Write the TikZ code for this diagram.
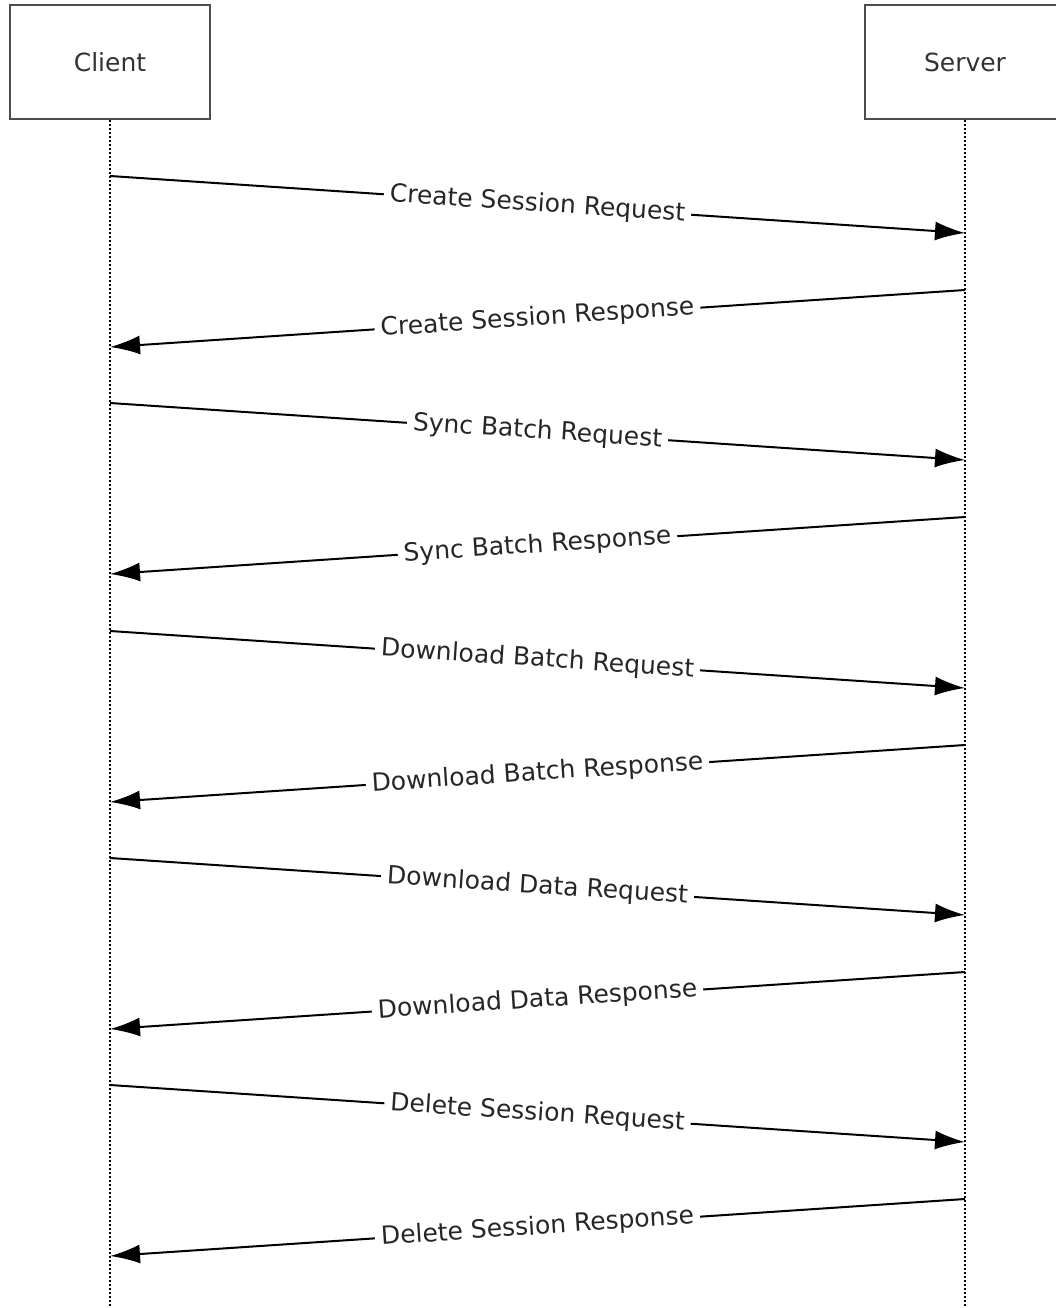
\documentclass[tikz,border=0pt]{standalone}
\usepackage{fontspec}
\setmainfont{DejaVu Sans}
\usetikzlibrary{arrows.meta, positioning}

\begin{document}
\begin{tikzpicture}[x=1pt, y=-1pt,
  every node/.style={font=\fontsize{25}{30}\selectfont},
  actor/.style={rectangle, draw=black!70, line width=2.5pt, minimum width=200pt, minimum height=114pt, text=black!80},
  lifeline/.style={line width=2pt, dash pattern=on 2pt off 2pt},
  msg/.style={-{Latex[length=30pt, width=19pt]}, line width=2pt},
  msglabel/.style={midway, sloped, fill=white, inner xsep=6pt, inner ysep=2pt, text=black!85}]
  \clip (0,0) rectangle (1056,1308);

  % Participants
  \node[actor] (client) at (110,62) {Client};
  \node[actor] (server) at (965,62) {Server};

  % Lifelines
  \coordinate (clientend) at (110,1308);
  \coordinate (serverend) at (965,1308);
  \draw[lifeline] (client.south) -- (clientend);
  \draw[lifeline] (server.south) -- (serverend);

  % Message end points on the lifelines
  \coordinate (c1) at (110,176);  \coordinate (s1) at (965,233);
  \coordinate (s2) at (965,290);  \coordinate (c2) at (110,347);
  \coordinate (c3) at (110,403);  \coordinate (s3) at (965,460);
  \coordinate (s4) at (965,517);  \coordinate (c4) at (110,574);
  \coordinate (c5) at (110,631);  \coordinate (s5) at (965,688);
  \coordinate (s6) at (965,745);  \coordinate (c6) at (110,802);
  \coordinate (c7) at (110,858);  \coordinate (s7) at (965,915);
  \coordinate (s8) at (965,972);  \coordinate (c8) at (110,1029);
  \coordinate (c9) at (110,1085); \coordinate (s9) at (965,1142);
  \coordinate (s10) at (965,1199); \coordinate (c10) at (110,1256);

  % Messages
  \draw[msg] (c1) -- node[msglabel] {Create Session Request} (s1);
  \draw[msg] (s2) -- node[msglabel] {Create Session Response} (c2);
  \draw[msg] (c3) -- node[msglabel] {Sync Batch Request} (s3);
  \draw[msg] (s4) -- node[msglabel] {Sync Batch Response} (c4);
  \draw[msg] (c5) -- node[msglabel] {Download Batch Request} (s5);
  \draw[msg] (s6) -- node[msglabel] {Download Batch Response} (c6);
  \draw[msg] (c7) -- node[msglabel] {Download Data Request} (s7);
  \draw[msg] (s8) -- node[msglabel] {Download Data Response} (c8);
  \draw[msg] (c9) -- node[msglabel] {Delete Session Request} (s9);
  \draw[msg] (s10) -- node[msglabel] {Delete Session Response} (c10);
\end{tikzpicture}
\end{document}
